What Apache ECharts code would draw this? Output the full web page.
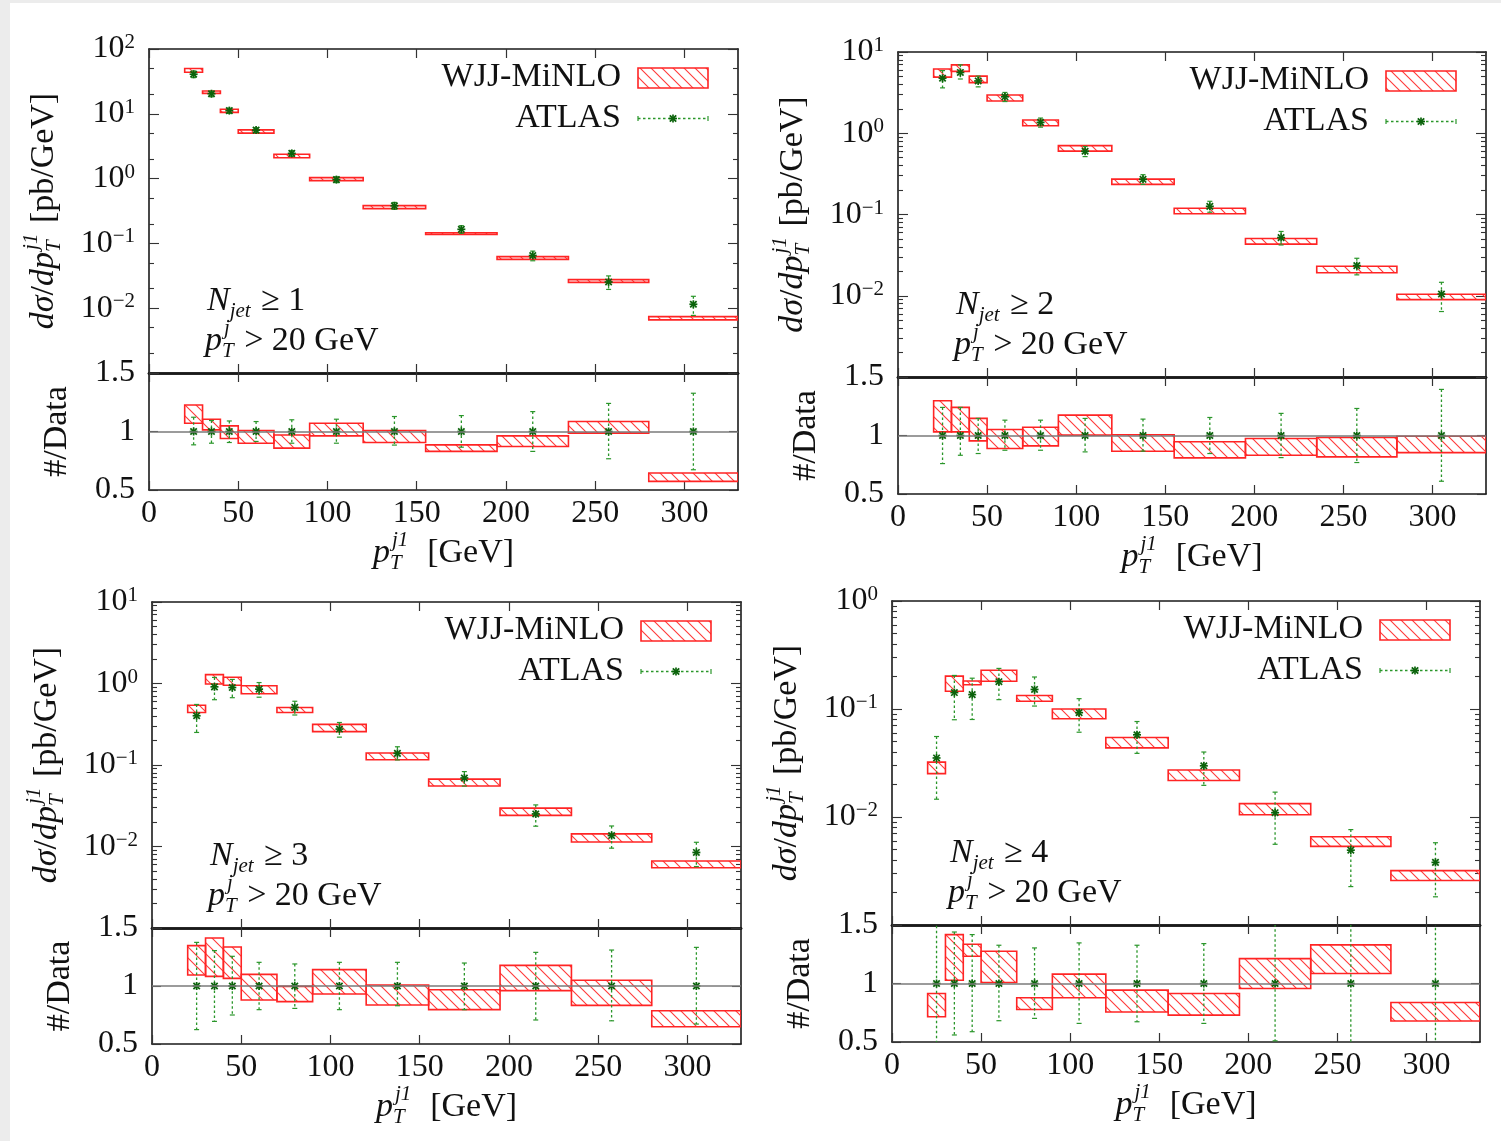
<!DOCTYPE html>
<html><head><meta charset="utf-8">
<script src="https://cdn.jsdelivr.net/npm/echarts@6/dist/echarts.min.js"></script>
<style>html,body{margin:0;padding:0;background:#fff}#c{width:1501px;height:1141px}</style>
</head><body><div id="c"></div>
<script>
// ---------------- DATA ----------------
const binLo  = [20, 30, 40, 50, 70, 90, 120, 155, 195, 235, 280];
const binHi  = [30, 40, 50, 70, 90, 120, 155, 195, 235, 280, 330];
const binMid = [25, 35, 45, 60, 80, 105, 137.5, 175, 215, 257.5, 305];
const xTickValues = [0, 50, 100, 150, 200, 250, 300];
const ratioTickValues = [0.5, 1, 1.5];
const njetLabels = ['1', '2', '3', '4'];
const logYMin = [1e-3, 1e-3, 1e-3, 1e-3];
const logYMax = [1e2, 1e1, 1e1, 1e0];

// N_jet >= 1
const atlasNjet1      = [40.8, 20.4, 11.2, 5.6, 2.45, 0.965, 0.38, 0.165, 0.065, 0.0254, 0.0115];
const atlasNjet1RelHi = [1.122, 1.094, 1.09, 1.085, 1.10, 1.105, 1.128, 1.136, 1.17, 1.24, 1.327];
const atlasNjet1RelLo = [0.886, 0.90, 0.906, 0.915, 0.90, 0.90, 0.884, 0.866, 0.83, 0.767, 0.673];
const minloNjet1RatLo = [1.071, 1.014, 0.94, 0.90, 0.858, 0.963, 0.906, 0.83, 0.872, 0.986, 0.574];
const minloNjet1RatHi = [1.227, 1.105, 1.048, 1.008, 0.97, 1.071, 1.008, 0.886, 0.963, 1.085, 0.645];
// N_jet >= 2
const atlasNjet2      = [4.76, 5.6, 4.4, 2.81, 1.36, 0.60, 0.271, 0.126, 0.052, 0.0235, 0.0105];
const atlasNjet2RelHi = [1.24, 1.24, 1.146, 1.131, 1.131, 1.146, 1.14, 1.154, 1.189, 1.231, 1.394];
const atlasNjet2RelLo = [0.76, 0.831, 0.846, 0.874, 0.874, 0.86, 0.866, 0.846, 0.811, 0.769, 0.609];
const minloNjet2RatLo = [1.031, 1.031, 0.954, 0.889, 0.911, 1.003, 0.866, 0.809, 0.831, 0.817, 0.854];
const minloNjet2RatHi = [1.297, 1.24, 1.146, 1.051, 1.071, 1.174, 1.006, 0.946, 0.974, 0.983, 0.994];
// N_jet >= 3
const atlasNjet3      = [0.402, 0.91, 0.893, 0.853, 0.509, 0.276, 0.139, 0.0693, 0.0251, 0.01363, 0.00845];
const atlasNjet3RelHi = [1.376, 1.305, 1.256, 1.204, 1.19, 1.204, 1.204, 1.198, 1.29, 1.31, 1.333];
const atlasNjet3RelLo = [0.624, 0.695, 0.75, 0.796, 0.807, 0.796, 0.83, 0.796, 0.707, 0.70, 0.672];
const minloNjet3RatLo = [1.095, 1.083, 1.066, 0.879, 0.865, 0.931, 0.836, 0.796, 0.96, 0.833, 0.649];
const minloNjet3RatHi = [1.348, 1.414, 1.336, 1.10, 0.997, 1.141, 1.009, 0.968, 1.178, 1.049, 0.787];
// N_jet >= 4
const atlasNjet4      = [0.0352, 0.142, 0.136, 0.179, 0.1517, 0.0925, 0.0577, 0.0298, 0.01096, 0.00493, 0.0038];
const atlasNjet4RelHi = [1.58, 1.44, 1.418, 1.327, 1.304, 1.347, 1.327, 1.341, 1.55, 1.55, 1.52];
const atlasNjet4RelLo = [0.415, 0.56, 0.588, 0.682, 0.702, 0.659, 0.673, 0.659, 0.51, 0.46, 0.48];
const minloNjet4RatLo = [0.716, 1.028, 1.233, 1.009, 0.778, 0.878, 0.756, 0.73, 0.957, 1.085, 0.679];
const minloNjet4RatHi = [0.915, 1.418, 1.335, 1.276, 0.878, 1.08, 0.943, 0.915, 1.213, 1.33, 0.838];

const panelData = [
  {atlas: atlasNjet1, relHi: atlasNjet1RelHi, relLo: atlasNjet1RelLo, ratLo: minloNjet1RatLo, ratHi: minloNjet1RatHi},
  {atlas: atlasNjet2, relHi: atlasNjet2RelHi, relLo: atlasNjet2RelLo, ratLo: minloNjet2RatLo, ratHi: minloNjet2RatHi},
  {atlas: atlasNjet3, relHi: atlasNjet3RelHi, relLo: atlasNjet3RelLo, ratLo: minloNjet3RatLo, ratHi: minloNjet3RatHi},
  {atlas: atlasNjet4, relHi: atlasNjet4RelHi, relLo: atlasNjet4RelLo, ratLo: minloNjet4RatLo, ratHi: minloNjet4RatHi}
];

// ---------------- LAYOUT / STYLE ----------------
const layout = [
  {L: 149, W: 589, T: 49,  H: 324, RH: 117},
  {L: 898, W: 588, T: 52,  H: 325, RH: 117},
  {L: 152, W: 589, T: 602, H: 326, RH: 116},
  {L: 892, W: 588, T: 601, H: 324, RH: 117}
];
const FF = '"Liberation Serif", "DejaVu Serif", serif';
const TXT = '#111';
const RED = '#ff2424';
const GREEN = '#2a962a';
const DKGREEN = '#0b630b';

function makeHatch() {
  const c = document.createElement('canvas');
  c.width = 11; c.height = 11;
  const g = c.getContext('2d');
  g.strokeStyle = '#ff3a3a'; g.lineWidth = 1.1;
  g.beginPath();
  g.moveTo(-2, -2); g.lineTo(13, 13);
  g.moveTo(-2, 9); g.lineTo(2, 13);
  g.moveTo(9, -2); g.lineTo(13, 2);
  g.stroke();
  return c;
}
const hatchCanvas = makeHatch();
const hatchFill = () => ({image: hatchCanvas, repeat: 'repeat'});

function starLines(cx, cy, s) {
  const st = {stroke: DKGREEN, lineWidth: 1.7};
  return [
    {type: 'line', shape: {x1: cx - s, y1: cy, x2: cx + s, y2: cy}, style: st},
    {type: 'line', shape: {x1: cx, y1: cy - s, x2: cx, y2: cy + s}, style: st},
    {type: 'line', shape: {x1: cx - s * 0.8, y1: cy - s * 0.8, x2: cx + s * 0.8, y2: cy + s * 0.8}, style: st},
    {type: 'line', shape: {x1: cx - s * 0.8, y1: cy + s * 0.8, x2: cx + s * 0.8, y2: cy - s * 0.8}, style: st}
  ];
}

function boxRender(params, api) {
  const a = api.coord([api.value(0), api.value(3)]);
  const b = api.coord([api.value(1), api.value(2)]);
  return {type: 'rect', shape: {x: a[0], y: a[1], width: b[0] - a[0], height: b[1] - a[1]},
    style: {fill: hatchFill(), stroke: RED, lineWidth: 1.6}};
}
function ptRender(params, api) {
  const x = api.value(0);
  const c = api.coord([x, api.value(1)]);
  const lo = api.coord([x, api.value(2)]);
  const hi = api.coord([x, api.value(3)]);
  const cap = 2.5;
  const es = {stroke: GREEN, lineWidth: 1.3, lineDash: [2.5, 2.5]};
  const cs = {stroke: GREEN, lineWidth: 1.2};
  return {type: 'group', children: [
    {type: 'line', shape: {x1: c[0], y1: hi[1], x2: c[0], y2: lo[1]}, style: es},
    {type: 'line', shape: {x1: c[0] - cap, y1: hi[1], x2: c[0] + cap, y2: hi[1]}, style: cs},
    {type: 'line', shape: {x1: c[0] - cap, y1: lo[1], x2: c[0] + cap, y2: lo[1]}, style: cs}
  ].concat(starLines(c[0], c[1], 4))};
}

// math-like text helpers
const mctx = document.createElement('canvas').getContext('2d');
function fontStr(size, it) { return (it ? 'italic ' : '') + size + 'px ' + FF; }
function tw(s, size, it) { mctx.font = fontStr(size, it); return mctx.measureText(s).width; }
function txt(s, x, y, size, it, align) {
  return {type: 'text', x: x, y: y, silent: true,
    style: {text: s, font: fontStr(size, it), fill: TXT, textAlign: align || 'left', textVerticalAlign: 'middle',
      align: align || 'left', verticalAlign: 'middle'}};
}
function mathRow(parts, size) {
  const els = []; let x = 0;
  parts.forEach(p => {
    if (p.t !== undefined) { els.push(txt(p.t, x, 0, size, p.it)); x += tw(p.t, size, p.it); }
    else {
      const ss = Math.round(size * 0.62); let w = 0;
      if (p.sup) { els.push(txt(p.sup, x + (p.supShift || 0), -size * 0.36, ss, p.it)); w = Math.max(w, tw(p.sup, ss, p.it) + (p.supShift || 0)); }
      if (p.sub) { els.push(txt(p.sub, x, size * 0.3, ss, p.it)); w = Math.max(w, tw(p.sub, ss, p.it)); }
      x += w + 2;
    }
  });
  return {els: els, width: x};
}
function mathGroup(parts, size, x, y, rot, centered) {
  const r = mathRow(parts, size);
  const dx = centered ? -r.width / 2 : 0;
  r.els.forEach(e => { e.x += dx; });
  return {type: 'group', x: x, y: y, rotation: rot || 0, children: r.els, z: 100};
}

// ---------------- OPTION ----------------
const option = {animation: false, backgroundColor: '#fff', grid: [], xAxis: [], yAxis: [], series: [], graphic: []};

function xAx(gi, pos, labels, lw) {
  return {type: 'value', gridIndex: gi, position: pos, min: 0, max: 330, interval: 50,
    axisLine: {show: true, onZero: false, lineStyle: {color: '#1a1a1a', width: lw}},
    axisTick: {show: true, inside: true, length: 9, customValues: xTickValues, lineStyle: {color: '#333', width: 1.2}},
    axisLabel: {show: labels, customValues: xTickValues, fontFamily: FF, fontSize: 32, color: TXT, margin: 8,
      formatter: v => (v > 300.5 ? '' : String(v))},
    splitLine: {show: false}};
}
function decadesBetween(min, max) {
  const out = []; for (let e = Math.round(Math.log10(min)); e <= Math.round(Math.log10(max)); e++) out.push(Math.pow(10, e)); return out;
}
function minorsBetween(min, max, mults) {
  const out = [];
  for (let e = Math.round(Math.log10(min)); e < Math.round(Math.log10(max)); e++) mults.forEach(m => out.push(m * Math.pow(10, e)));
  return out;
}
function yLog(gi, pos, min, max, tickVals, len, labelVals, showLine) {
  const superLab = v => {
    if (v <= min * 1.01) return '';
    const e = Math.round(Math.log10(v));
    return '{b|10}{s|' + (e < 0 ? '\u2212' + (-e) : e) + '}';
  };
  return {type: 'log', logBase: 10, gridIndex: gi, position: pos, min: min, max: max,
    axisLine: {show: showLine, onZero: false, lineStyle: {color: '#1a1a1a', width: 1.6}},
    axisTick: {show: true, inside: true, length: len, customValues: tickVals, lineStyle: {color: '#333', width: 1.1}},
    axisLabel: {show: !!labelVals, customValues: labelVals || undefined, margin: 14, formatter: superLab,
      rich: {b: {fontFamily: FF, fontSize: 32, color: TXT, lineHeight: 34},
             s: {fontFamily: FF, fontSize: 21, color: TXT, verticalAlign: 'top', lineHeight: 18}}},
    splitLine: {show: false}, minorTick: {show: false}};
}
function yRat(gi, pos, labels) {
  return {type: 'value', gridIndex: gi, position: pos, min: 0.5, max: 1.5, interval: 0.5,
    axisLine: {show: true, onZero: false, lineStyle: {color: '#1a1a1a', width: 1.6}},
    axisTick: {show: true, inside: true, length: 9, customValues: ratioTickValues, lineStyle: {color: '#333', width: 1.1}},
    axisLabel: {show: labels, customValues: ratioTickValues, fontFamily: FF, fontSize: 32, color: TXT, margin: 14,
      formatter: v => String(v)},
    splitLine: {show: false}};
}

layout.forEach((g, p) => {
  const d = panelData[p];
  const gm = 2 * p, gr = 2 * p + 1;
  option.grid.push({left: g.L, top: g.T, width: g.W, height: g.H, outerBoundsMode: 'none'});
  option.grid.push({left: g.L, top: g.T + g.H, width: g.W, height: g.RH, outerBoundsMode: 'none'});

  option.xAxis.push(xAx(gm, 'bottom', false, 2.6), xAx(gm, 'top', false, 1.6), xAx(gr, 'bottom', true, 1.6), xAx(gr, 'top', false, 2.6));

  const ymin = logYMin[p], ymax = logYMax[p];
  const majors = decadesBetween(ymin, ymax);
  const minors = minorsBetween(ymin, ymax, p === 0 ? [2, 5] : [2, 3, 4, 5, 6, 7, 8, 9]);
  const labelVals = majors.filter(v => v > ymin * 1.01);
  option.yAxis.push(
    yLog(gm, 'left', ymin, ymax, majors, 10, labelVals, true),
    yLog(gm, 'left', ymin, ymax, minors, 5, null, false),
    yLog(gm, 'right', ymin, ymax, majors, 10, null, true),
    yLog(gm, 'right', ymin, ymax, minors, 5, null, false),
    yRat(gr, 'left', true),
    yRat(gr, 'right', false)
  );

  const mainBoxes = [], mainPts = [], ratBoxes = [], ratPts = [];
  for (let i = 0; i < binLo.length; i++) {
    mainBoxes.push([binLo[i], binHi[i], d.atlas[i] * d.ratLo[i], d.atlas[i] * d.ratHi[i]]);
    mainPts.push([binMid[i], d.atlas[i], d.atlas[i] * d.relLo[i], d.atlas[i] * d.relHi[i]]);
    ratBoxes.push([binLo[i], binHi[i], d.ratLo[i], d.ratHi[i]]);
    ratPts.push([binMid[i], 1, d.relLo[i], d.relHi[i]]);
  }
  const xi = 4 * p, yi = 6 * p;
  option.series.push(
    {type: 'custom', name: 'WJJ-MiNLO', xAxisIndex: xi, yAxisIndex: yi, renderItem: boxRender, data: mainBoxes, clip: true, encode: {x: [0, 1], y: [2, 3]}, z: 2, silent: true},
    {type: 'custom', name: 'ATLAS', xAxisIndex: xi, yAxisIndex: yi, renderItem: ptRender, data: mainPts, clip: true, encode: {x: 0, y: [1, 2, 3]}, z: 3, silent: true},
    {type: 'custom', name: 'ratio', xAxisIndex: xi + 2, yAxisIndex: yi + 4, renderItem: boxRender, data: ratBoxes, clip: true, encode: {x: [0, 1], y: [2, 3]}, z: 2, silent: true,
      markLine: {silent: true, symbol: ['none', 'none'], label: {show: false}, lineStyle: {color: '#7a7a7a', width: 1.6, type: 'solid'}, data: [{yAxis: 1}]}},
    {type: 'custom', name: 'ratioData', xAxisIndex: xi + 2, yAxisIndex: yi + 4, renderItem: ptRender, data: ratPts, clip: true, encode: {x: 0, y: [1, 2, 3]}, z: 4, silent: true}
  );

  // legend
  const R = g.L + g.W, T = g.T;
  option.graphic.push(txt('WJJ-MiNLO', R - 117, T + 28, 34, false, 'right'));
  option.graphic.push({type: 'rect', shape: {x: R - 100, y: T + 19, width: 70, height: 20}, style: {fill: hatchFill(), stroke: RED, lineWidth: 1.6}, silent: true});
  option.graphic.push(txt('ATLAS', R - 117, T + 69, 34, false, 'right'));
  const ly = T + 69.5;
  option.graphic.push({type: 'group', silent: true, children: [
    {type: 'line', shape: {x1: R - 100, y1: ly, x2: R - 30, y2: ly}, style: {stroke: GREEN, lineWidth: 1.3, lineDash: [2.5, 2.5]}},
    {type: 'line', shape: {x1: R - 100, y1: ly - 2.5, x2: R - 100, y2: ly + 2.5}, style: {stroke: GREEN, lineWidth: 1.2}},
    {type: 'line', shape: {x1: R - 30, y1: ly - 2.5, x2: R - 30, y2: ly + 2.5}, style: {stroke: GREEN, lineWidth: 1.2}}
  ].concat(starLines(R - 65, ly, 4))});

  // annotations
  const B = g.T + g.H;
  option.graphic.push(mathGroup([{t: 'N', it: true}, {sub: 'jet', it: true}, {t: ' \u2265 ' + njetLabels[p]}], 34, g.L + 58, B - 72, 0, false));
  option.graphic.push(mathGroup([{t: 'p', it: true}, {sup: 'j', sub: 'T', it: true, supShift: 2}, {t: ' > 20 GeV'}], 34, g.L + 56, B - 32, 0, false));

  // axis titles
  option.graphic.push(mathGroup([{t: 'd\u03c3', it: true}, {t: '/'}, {t: 'dp', it: true}, {sup: 'j1', sub: 'T', it: true, supShift: 2}, {t: ' [pb/GeV]'}], 34,
    g.L - 105, g.T + g.H / 2, Math.PI / 2, true));
  option.graphic.push(mathGroup([{t: '#/Data'}], 34, g.L - 92, B + g.RH / 2, Math.PI / 2, true));
  option.graphic.push(mathGroup([{t: 'p', it: true}, {sup: 'j1', sub: 'T', it: true, supShift: 2}, {t: '  [GeV]'}], 34,
    g.L + g.W / 2, B + g.RH + 63, 0, true));
});

// light grey page margin
option.graphic.push({type: 'rect', shape: {x: 0, y: 0, width: 10, height: 1141}, style: {fill: '#ececec'}, silent: true, z: -10});
option.graphic.push({type: 'rect', shape: {x: 0, y: 0, width: 1501, height: 3}, style: {fill: '#ececec'}, silent: true, z: -10});

const chart = echarts.init(document.getElementById('c'), null, {renderer: 'canvas'});
chart.setOption(option);
</script>
</body></html>
